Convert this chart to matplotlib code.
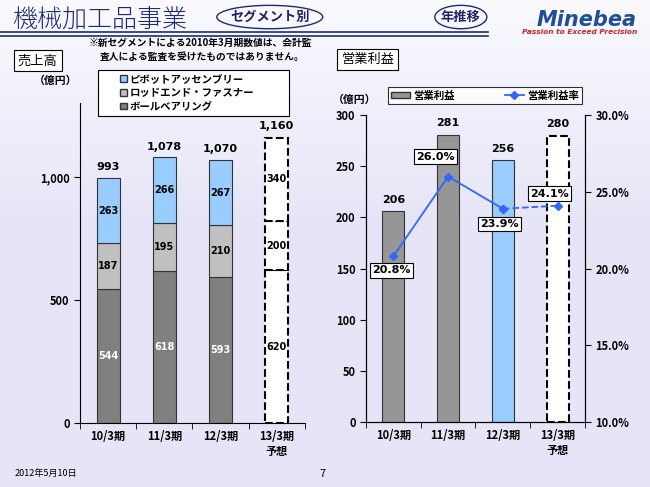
import numpy as np
import matplotlib
matplotlib.use('Agg')
import matplotlib.pyplot as plt
from matplotlib.patches import Patch, Ellipse, Rectangle
from matplotlib.lines import Line2D

plt.rcParams['font.family'] = ['Noto Sans CJK JP', 'DejaVu Sans']

# data
categories = ['10/3期', '11/3期', '12/3期', '13/3期\n予想']
ball = [544, 618, 593, 620]
rod = [187, 195, 210, 200]
pivot = [263, 266, 267, 340]
sales_total = [993, 1078, 1070, 1160]
op_profit = [206, 281, 256, 280]
op_margin = [20.8, 26.0, 23.9, 24.1]
margin_offsets = [(-2, -14), (-13, 20), (-3, -15), (-8, 12)]

C_BALL = '#808080'
C_ROD = '#C0C0C0'
C_PIVOT = '#99CCFF'
C_PROFIT = '#969696'
C_LINE = '#3366FF'
NAVY = '#1F2A78'

fig = plt.figure(figsize=(6.5, 4.87), dpi=100)

# background gradient
bg = fig.add_axes([0, 0, 1, 1], zorder=-10)
grad = np.linspace(0, 1, 200)
cols = np.zeros((200, 1, 3))
top = np.array([0.98, 0.98, 1.0])
bot = np.array([0.90, 0.90, 0.97])
for i in range(200):
    t = min(1.0, grad[i] * 2.2)
    cols[i, 0] = top * (1 - t) + bot * t
bg.imshow(cols, aspect='auto', extent=[0, 1, 0, 1], origin='upper')
bg.axis('off')

# header
fig.text(0.018, 0.961, '機械加工品事業', fontsize=18, color=NAVY, va='center', weight='light')
fig.add_artist(Line2D([0, 0.751], [0.934, 0.934], transform=fig.transFigure, color=NAVY, lw=1.2))
fig.add_artist(Line2D([0, 0.751], [0.927, 0.927], transform=fig.transFigure, color=NAVY, lw=1.2))
fig.add_artist(Ellipse((0.415, 0.965), 0.163, 0.048, transform=fig.transFigure,
                       fill=False, ec=NAVY, lw=1))
fig.text(0.415, 0.965, 'セグメント別', fontsize=9.5, weight='bold', ha='center', va='center', color='#222266')
fig.add_artist(Ellipse((0.709, 0.965), 0.08, 0.048, transform=fig.transFigure,
                       fill=False, ec=NAVY, lw=1))
fig.text(0.709, 0.965, '年推移', fontsize=9.5, weight='bold', ha='center', va='center', color='#222266')
fig.text(0.98, 0.958, 'Minebea', fontsize=15, weight='bold', style='italic',
         color='#1F4E9A', ha='right', va='center', family='DejaVu Sans')
fig.text(0.98, 0.934, 'Passion to Exceed Precision', fontsize=5.3, weight='bold', style='italic',
         color='#CC2222', ha='right', va='center', family='DejaVu Sans')

fig.text(0.137, 0.911, '※新セグメントによる2010年3月期数値は、会計監', fontsize=7, weight='bold', va='center')
fig.text(0.153, 0.882, '査人による監査を受けたものではありません。', fontsize=7, weight='bold', va='center')

fig.text(0.058, 0.875, '売上高', fontsize=9.5, ha='center', va='center',
         bbox=dict(boxstyle='square,pad=0.3', fc='white', ec='black', lw=0.8))
fig.text(0.086, 0.834, '（億円）', fontsize=7.8, weight='bold', ha='center', va='center')
fig.text(0.566, 0.877, '営業利益', fontsize=9.5, ha='center', va='center',
         bbox=dict(boxstyle='square,pad=0.3', fc='white', ec='black', lw=0.8))
fig.text(0.545, 0.795, '（億円）', fontsize=7.8, weight='bold', ha='center', va='center')

fig.text(0.022, 0.027, '2012年5月10日', fontsize=6.5, style='italic', va='center')
fig.text(0.492, 0.027, '7', fontsize=8, va='center')

x = np.arange(len(categories))

# left chart: sales
ax1 = fig.add_axes([0.123, 0.1314, 0.346, 0.657])
ax1.set_facecolor('none')
w = 0.41
solid = x[:3]
ax1.bar(solid, ball[:3], w, color=C_BALL, edgecolor='#333333', lw=0.8)
ax1.bar(solid, rod[:3], w, bottom=ball[:3], color=C_ROD, edgecolor='#333333', lw=0.8)
b12 = np.array(ball[:3]) + np.array(rod[:3])
ax1.bar(solid, pivot[:3], w, bottom=b12, color=C_PIVOT, edgecolor='#333333', lw=0.8)
# forecast
ax1.bar(x[3], ball[3], w, color='white', edgecolor='black', lw=1.5, ls='--')
ax1.bar(x[3], rod[3], w, bottom=ball[3], color='white', edgecolor='black', lw=1.5, ls='--')
ax1.bar(x[3], pivot[3], w, bottom=ball[3] + rod[3], color='white', edgecolor='black', lw=1.5, ls='--')

for i in range(4):
    ax1.text(x[i], ball[i] / 2, str(ball[i]), ha='center', va='center', fontsize=7, weight='bold',
             color='white' if i < 3 else 'black', family='DejaVu Sans')
    ax1.text(x[i], ball[i] + rod[i] / 2, str(rod[i]), ha='center', va='center', fontsize=7,
             weight='bold', family='DejaVu Sans')
    ax1.text(x[i], ball[i] + rod[i] + pivot[i] / 2, str(pivot[i]), ha='center', va='center',
             fontsize=7, weight='bold', family='DejaVu Sans')
    ax1.text(x[i], sales_total[i] + 25, f'{sales_total[i]:,}', ha='center', va='bottom',
             fontsize=8, weight='bold', family='DejaVu Sans')

ax1.set_xlim(-0.5, 3.5)
ax1.set_ylim(0, 1300)
ax1.set_yticks([0, 500, 1000])
ax1.set_yticklabels(['0', '500', '1,000'])
ax1.set_xticks(x)
ax1.set_xticklabels(categories)
ax1.set_xticks(np.arange(-0.5, 4, 1), minor=True)
ax1.tick_params(axis='x', which='major', length=0, pad=5)
ax1.tick_params(axis='x', which='minor', length=4, direction='out')
ax1.tick_params(axis='y', length=4, direction='out')
for lab in ax1.get_xticklabels() + ax1.get_yticklabels():
    lab.set_fontweight('bold')
    lab.set_fontsize(8)
for s in ['top', 'right']:
    ax1.spines[s].set_visible(False)

# left legend, frame drawn separately so the entries sit indented
fig.add_artist(Rectangle((0.151, 0.762), 0.294, 0.094, transform=fig.transFigure,
                         fc='white', ec='black', lw=0.8, zorder=5))
h1 = [Patch(fc=C_PIVOT, ec='#333333'), Patch(fc=C_ROD, ec='#333333'), Patch(fc=C_BALL, ec='#333333')]
leg1 = fig.legend(h1, ['ピボットアッセンブリー', 'ロッドエンド・ファスナー', 'ボールベアリング'],
                  loc='center left', bbox_to_anchor=(0.185, 0.809),
                  fontsize=7.5, frameon=False,
                  handlelength=0.6, handleheight=0.6, handletextpad=0.3, labelspacing=0.35,
                  borderpad=0.0, borderaxespad=0)
leg1.set_zorder(6)
for t in leg1.get_texts():
    t.set_fontweight('bold')

# right chart: operating profit
ax2 = fig.add_axes([0.563, 0.1335, 0.337, 0.630])
ax2.set_facecolor('none')
w2 = 0.40
ax2.bar(x[:2], op_profit[:2], w2, color=C_PROFIT, edgecolor='#333333', lw=0.8)
ax2.bar(x[2], op_profit[2], w2, color=C_PIVOT, edgecolor='#333333', lw=0.8)
ax2.bar(x[3], op_profit[3], w2, color='white', edgecolor='black', lw=1.5, ls='--')
for i in range(4):
    ax2.text(x[i], op_profit[i] + 6, str(op_profit[i]), ha='center', va='bottom',
             fontsize=8, weight='bold', family='DejaVu Sans')
ax2.set_xlim(-0.5, 3.5)
ax2.set_ylim(0, 300)
ax2.set_yticks(range(0, 301, 50))
ax2.set_xticks(x)
ax2.set_xticklabels(categories)
ax2.set_xticks(np.arange(-0.5, 4, 1), minor=True)
ax2.tick_params(axis='x', which='major', length=0, pad=5)
ax2.tick_params(axis='x', which='minor', length=4, direction='out')
ax2.tick_params(axis='y', length=4, direction='out')
for lab in ax2.get_xticklabels() + ax2.get_yticklabels():
    lab.set_fontweight('bold')
    lab.set_fontsize(8)
ax2.spines['top'].set_visible(False)

ax3 = ax2.twinx()
ax3.plot(x[:3], op_margin[:3], color=C_LINE, lw=1.3, marker='D', ms=4.5)
ax3.plot(x[2:], op_margin[2:], color=C_LINE, lw=1.3, ls='--', marker='D', ms=4.5)
ax3.set_ylim(10, 30)
ax3.set_yticks([10, 15, 20, 25, 30])
ax3.set_yticklabels([f'{v:.1f}%' for v in [10, 15, 20, 25, 30]])
ax3.tick_params(axis='y', length=4, direction='out')
for lab in ax3.get_yticklabels():
    lab.set_fontweight('bold')
    lab.set_fontsize(8)
ax3.spines['top'].set_visible(False)
for i in range(4):
    ax3.annotate(f'{op_margin[i]:.1f}%', (x[i], op_margin[i]), xytext=margin_offsets[i],
                 textcoords='offset pixels', ha='center', va='center', fontsize=8,
                 weight='bold', family='DejaVu Sans',
                 bbox=dict(boxstyle='square,pad=0.2', fc='white', ec='black', lw=0.8))

h2 = [Patch(fc=C_PROFIT, ec='#333333'),
      Line2D([], [], color=C_LINE, marker='D', ms=4, lw=1.3)]
leg2 = fig.legend(h2, ['営業利益', '営業利益率'], loc='upper left', ncol=2,
                  bbox_to_anchor=(0.597, 0.821, 0.298, 0.0), mode='expand',
                  fontsize=7.5, frameon=True, fancybox=False, edgecolor='black',
                  handlelength=1.8, handleheight=0.5, handletextpad=0.3, columnspacing=1.0,
                  borderpad=0.3, borderaxespad=0)
leg2.get_frame().set_linewidth(0.8)
for t in leg2.get_texts():
    t.set_fontweight('bold')

fig.savefig('out.png', dpi=100)
